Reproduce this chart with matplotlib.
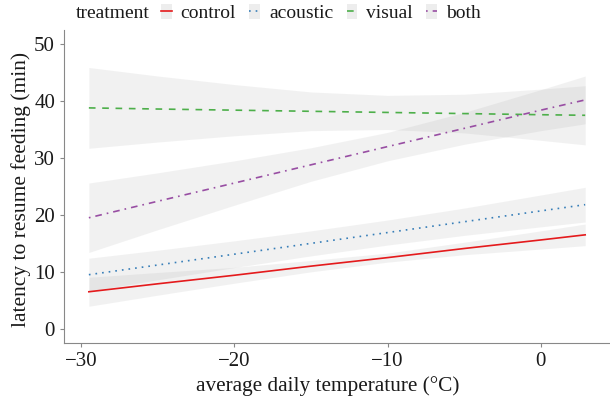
import matplotlib
matplotlib.use("Agg")
import matplotlib.pyplot as plt
from matplotlib.patches import Patch
from matplotlib.lines import Line2D
from matplotlib.legend_handler import HandlerTuple

plt.rcParams['font.family'] = ['Liberation Serif', 'DejaVu Serif']

temps = [-29.5, -25, -20, -15, -10, -5, 0, 2.9]

groups = ['control', 'acoustic', 'visual', 'both']

fit_control = [6.5, 7.9, 9.4, 11.0, 12.5, 14.1, 15.6, 16.5]
lo_control = [3.95, 5.9, 8.0, 10.0, 11.7, 13.0, 14.0, 14.6]
hi_control = [9.05, 9.9, 10.8, 12.0, 13.3, 15.2, 17.2, 18.4]

fit_acoustic = [9.5, 11.2, 13.1, 15.0, 16.9, 18.8, 20.7, 21.8]
lo_acoustic = [6.6, 8.6, 10.75, 12.8, 14.7, 16.4, 17.9, 18.75]
hi_acoustic = [12.4, 13.8, 15.45, 17.2, 19.1, 21.2, 23.5, 24.85]

fit_visual = [38.8, 38.6, 38.4, 38.2, 38.0, 37.8, 37.6, 37.5]
lo_visual = [31.7, 32.8, 33.9, 34.8, 35.0, 34.4, 33.1, 32.3]
hi_visual = [45.9, 44.4, 42.9, 41.6, 41.0, 41.2, 42.1, 42.7]

fit_both = [19.5, 22.4, 25.6, 28.8, 32.0, 35.2, 38.4, 40.2]
lo_both = [13.4, 17.4, 21.7, 25.9, 29.5, 32.4, 34.8, 36.0]
hi_both = [25.6, 27.4, 29.5, 31.8, 34.5, 38.0, 42.0, 44.4]

fits = [fit_control, fit_acoustic, fit_visual, fit_both]
lows = [lo_control, lo_acoustic, lo_visual, lo_both]
highs = [hi_control, hi_acoustic, hi_visual, hi_both]

colors = ['#E41A1C', '#377EB8', '#4DAF4A', '#984EA3']
styles = ['-', (0, (1, 3)), (0, (4, 4)), (0, (1, 3, 4, 3))]

fig = plt.figure(figsize=(6.1, 4.04), dpi=100)
ax = fig.add_axes([0.105, 0.151, 0.895, 0.775])

# ribbons first, lines on top
for lo, hi in zip(lows, highs):
    ax.fill_between(temps, lo, hi, color='#999999', alpha=0.13, lw=0)
for fit, c, ls in zip(fits, colors, styles):
    ax.plot(temps, fit, color=c, linestyle=ls, lw=1.2)

ax.set_xlim(-31.12, 4.52)
ax.set_ylim(-2.5, 52.5)
ax.set_xticks([-30, -20, -10, 0])
ax.set_yticks([0, 10, 20, 30, 40, 50])
ax.tick_params(labelsize=15, colors='#888888', labelcolor='#1a1a1a', length=3, width=0.8)
for s in ['top', 'right']:
    ax.spines[s].set_visible(False)
for s in ['left', 'bottom']:
    ax.spines[s].set_color('#888888')
    ax.spines[s].set_linewidth(0.8)

ax.set_xlabel('average daily temperature (°C)', fontsize=15.3, color='#1a1a1a')
ax.set_ylabel('latency to resume feeding (min)', fontsize=15.5, color='#1a1a1a')
ax.xaxis.set_label_coords(0.482, -0.105)
ax.yaxis.set_label_coords(-0.060, 0.49)

# legend across the top
fig.text(76 / 610, 1 - 13 / 404, 'treatment', fontsize=14, color='#1a1a1a', va='center', ha='left')
handles = []
for c, ls in zip(colors, styles):
    handles.append((Patch(facecolor='#ededed', edgecolor='none'),
                    Line2D([], [], color=c, linestyle=ls, lw=1.2)))
fig.legend(handles, groups, loc='center left', bbox_to_anchor=(161 / 610, 1 - 13 / 404),
           ncol=4, frameon=False, fontsize=14, handlelength=0.55, handleheight=0.8,
           handletextpad=0.45, columnspacing=0.7, borderpad=0, borderaxespad=0,
           labelcolor='#1a1a1a', handler_map={tuple: HandlerTuple(ndivide=1)})

fig.savefig('out.png', dpi=100)
